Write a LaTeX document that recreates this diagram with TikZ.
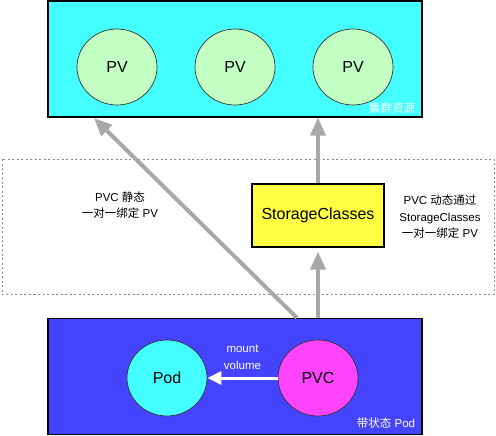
\documentclass[tikz,border=0pt]{standalone}
\usepackage{fontspec}
\setmainfont{Liberation Sans}
\newfontfamily\cjk{Noto Sans CJK SC}
\usetikzlibrary{arrows.meta,shapes.geometric}

\definecolor{aqua}{HTML}{44FFFF}
\definecolor{mint}{HTML}{C2FFC2}
\definecolor{lemon}{HTML}{FFFF44}
\definecolor{royal}{HTML}{4444FF}
\definecolor{pink}{HTML}{FF44FF}
\definecolor{arrowgray}{HTML}{A8A8A8}
\definecolor{dotgray}{HTML}{8A8A8A}

\tikzset{
	area/.style = {draw = black, line width = 1.2pt, minimum width = 374pt, minimum height = 116pt, inner sep = 0pt},
	ball/.style = {ellipse, draw = black!80, line width = 0.7pt, minimum width = 80pt, minimum height = 76pt, font = \fontsize{16}{19}\selectfont},
	bigarrow/.style = {draw = arrowgray, line width = 4pt, -{Triangle[length = 18pt, width = 15pt]}},
	note/.style = {align = center, font = \fontsize{11.5}{16.5}\selectfont}
}

\begin{document}
\begin{tikzpicture}[x = 1pt, y = -1pt]
	\useasboundingbox (0,0) rectangle (496,436);
	% dotted frame
	\draw [dotgray, line width = 0.8pt, dash pattern = on 2pt off 2.5pt] (2,159) rectangle (494,294);
	% cluster resources
	\node [area, fill = aqua] (cluster) at (235,59) {};
	\node [ball, fill = mint] (pv1) at (117,67) {PV};
	\node [ball, fill = mint] (pv2) at (235,67) {PV};
	\node [ball, fill = mint] (pv3) at (353,67) {PV};
	\node [white, font = \cjk\fontsize{11.5}{14}\selectfont, anchor = south east] (clname) at ([xshift = -4pt, yshift = 1pt]cluster.south east) {集群资源};
	% stateful pod
	\node [area, fill = royal] (podbox) at (235,376.5) {};
	\node [ball, fill = aqua] (pod) at (167,378) {Pod};
	\node [ball, fill = pink] (pvc) at (318,378) {PVC};
	\node [white, font = \fontsize{11.5}{14}\selectfont, anchor = south east] (podname) at ([xshift = -4pt, yshift = 3pt]podbox.south east) {{\cjk 带状态} Pod};
	% storage classes
	\node [draw = black, line width = 1.2pt, fill = lemon, minimum width = 132pt, minimum height = 63pt, font = \fontsize{16}{19}\selectfont] (sc) at (318,215.5) {StorageClasses};
	% arrows
	\draw [white, line width = 3pt, -{Triangle[length = 14pt, width = 13pt]}] (pvc) -- (pod) node [midway, above = 4pt, note, white] (mount) {mount\\volume};
	\coordinate (staticStart) at ([xshift = -21pt]pvc |- podbox.north);
	\coordinate (staticEnd) at (94,118);
	\draw [bigarrow] (staticStart) -- (staticEnd);
	\draw [bigarrow, shorten > = 4pt] (pvc |- podbox.north) -- (sc.south);
	\draw [bigarrow] (sc.north) -- (sc |- cluster.south);
	% labels
	\node [note] (staticnote) at (120,205) {PVC {\cjk 静态}\\{\cjk 一对一绑定} PV};
	\node [note] (dynnote) at (440,217) {PVC {\cjk 动态通过}\\StorageClasses\\{\cjk 一对一绑定} PV};
\end{tikzpicture}
\end{document}
